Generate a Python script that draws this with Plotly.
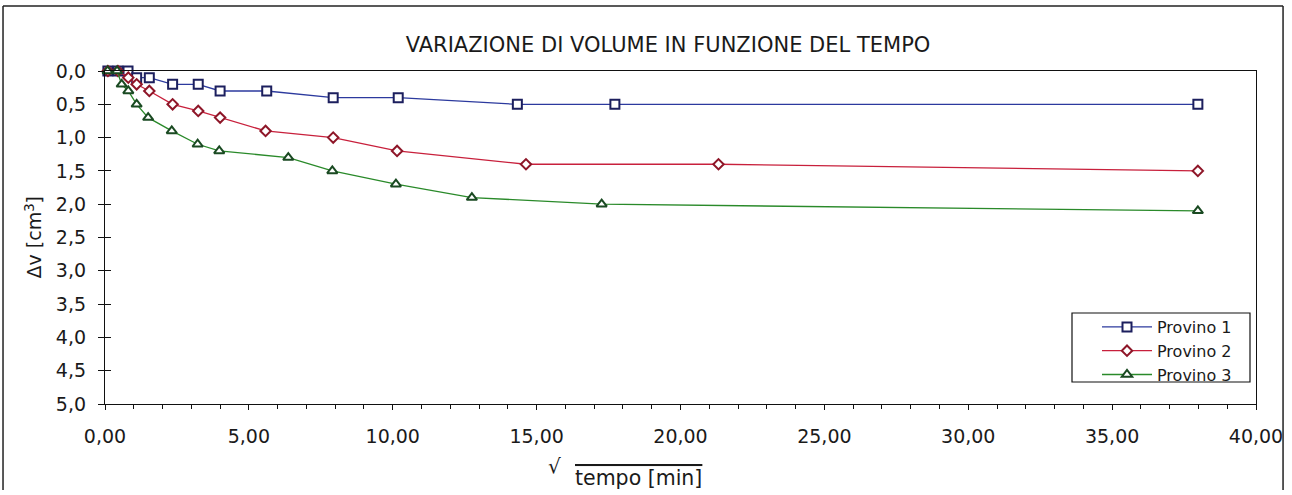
import plotly.graph_objects as go

# sqrt(tempo [min])
x_p1 = [0.10, 0.45, 0.80, 1.10, 1.54, 2.35, 3.24, 4.00, 5.62, 7.93, 10.19, 14.33, 17.72, 37.98]
y_p1 = [0.0, 0.0, 0.0, 0.1, 0.1, 0.2, 0.2, 0.3, 0.3, 0.4, 0.4, 0.5, 0.5, 0.5]

x_p2 = [0.10, 0.45, 0.81, 1.10, 1.54, 2.35, 3.24, 4.00, 5.58, 7.93, 10.15, 14.63, 21.32, 37.98]
y_p2 = [0.0, 0.0, 0.1, 0.2, 0.3, 0.5, 0.6, 0.7, 0.9, 1.0, 1.2, 1.4, 1.4, 1.5]

x_p3 = [0.09, 0.42, 0.58, 0.81, 1.10, 1.50, 2.32, 3.22, 3.97, 6.37, 7.90, 10.11, 12.75, 17.26, 37.98]
y_p3 = [0.0, 0.0, 0.2, 0.3, 0.5, 0.7, 0.9, 1.1, 1.2, 1.3, 1.5, 1.7, 1.9, 2.0, 2.1]

names = ["Provino 1", "Provino 2", "Provino 3"]
title = "VARIAZIONE DI VOLUME IN FUNZIONE DEL TEMPO"
y_title = "Δv [cm<sup>3</sup>]"
x_title = "tempo [min]"

FONT = "DejaVu Sans"
TXT = "#1a1a1a"

fig = go.Figure()
fig.add_trace(go.Scatter(
    x=x_p1, y=y_p1, name=names[0], mode="lines+markers", cliponaxis=False,
    line=dict(color="#2c3a9e", width=1.3),
    marker=dict(symbol="square", size=9, color="white", line=dict(color="#1c1f5e", width=2)),
))
fig.add_trace(go.Scatter(
    x=x_p2, y=y_p2, name=names[1], mode="lines+markers", cliponaxis=False,
    line=dict(color="#c8203c", width=1.3),
    marker=dict(symbol="diamond", size=8, color="white", line=dict(color="#8e1628", width=2)),
))
fig.add_trace(go.Scatter(
    x=x_p3, y=y_p3, name=names[2], mode="lines+markers", cliponaxis=False,
    line=dict(color="#2a8a2a", width=1.3),
    marker=dict(symbol="triangle-up", size=9, color="white", line=dict(color="#1a4a22", width=2)),
))
# invisible trace to carry the inner y tick axis
fig.add_trace(go.Scatter(x=[0], y=[0], yaxis="y2", mode="markers",
                         marker=dict(opacity=0), showlegend=False, hoverinfo="skip"))

fig.update_layout(
    width=1292, height=495,
    margin=dict(l=105, r=36, t=71, b=91, autoexpand=False),
    paper_bgcolor="white", plot_bgcolor="white",
    separators=",.",
    font=dict(family=FONT, size=19, color=TXT),
    title=dict(text=title, xref="paper", x=(668 - 105) / 1151, xanchor="center",
               yref="container", y=1 - 45 / 495, yanchor="middle",
               font=dict(family=FONT, size=21, color=TXT)),
    xaxis=dict(range=[0, 40], dtick=5, tickformat=".2f", showgrid=False, zeroline=False,
               showline=True, linecolor="#111", linewidth=1.3, mirror=True,
               ticks="outside", ticklen=5, tickcolor="#111", tickwidth=1.3,
               minor=dict(dtick=1, ticks="outside", ticklen=4, tickcolor="#111", tickwidth=1.2),
               ticklabelstandoff=10, automargin=False,
               tickfont=dict(family=FONT, size=19, color=TXT)),
    yaxis=dict(range=[5, 0], dtick=0.5, tickformat=".1f", showgrid=False, zeroline=False,
               showline=True, linecolor="#111", linewidth=1.3, mirror=True,
               ticks="outside", ticklen=6, tickcolor="#111", tickwidth=1.3,
               ticklabelstandoff=8, automargin=False,
               tickfont=dict(family=FONT, size=19, color=TXT)),
    yaxis2=dict(range=[5, 0], dtick=0.5, overlaying="y", side="left", anchor="x",
                showgrid=False, zeroline=False, showline=False, showticklabels=False,
                ticks="inside", ticklen=6, tickcolor="#111", tickwidth=1.3),
    legend=dict(x=(1097 - 105) / 1151, y=(404 - 310) / 333, xanchor="left", yanchor="top",
                bgcolor="rgba(0,0,0,0)", borderwidth=0,
                font=dict(family=FONT, size=16, color=TXT),
                itemwidth=50, tracegroupgap=0),
    showlegend=True,
)

# legend frame drawn as a shape (legend itself sits on top)
fig.add_shape(type="rect", xref="paper", yref="paper",
              x0=(1072 - 105) / 1151, x1=(1250 - 105) / 1151,
              y0=(404 - 382) / 333, y1=(404 - 313) / 333,
              fillcolor="white", line=dict(color="#111", width=1.2), layer="above")

# y axis title
fig.add_annotation(x=(33 - 105) / 1151, y=0.5, xref="paper", yref="paper", text=y_title,
                   textangle=-90, showarrow=False, xanchor="center", yanchor="middle",
                   font=dict(family=FONT, size=19, color=TXT))

# x axis title: radical sign + overlined text
fig.add_annotation(x=(554 - 105) / 1151, y=(404 - 466) / 333, xref="paper", yref="paper",
                   text="√", showarrow=False, xanchor="center", yanchor="middle",
                   font=dict(family=FONT, size=20, color=TXT))
fig.add_annotation(x=(573 - 105) / 1151, y=(404 - 478) / 333, xref="paper", yref="paper",
                   text=x_title, showarrow=False, xanchor="left", yanchor="middle",
                   font=dict(family=FONT, size=20.5, color=TXT, lineposition="over"))

# outer chart frame
fx0, fx1 = -0.0886, 1.0235
fy0, fy1 = -0.258, 1.195
for (a, b, c, d) in [(fx0, fy1, fx1, fy1), (fx0, fy0, fx0, fy1), (fx1, fy0, fx1, fy1)]:
    fig.add_shape(type="line", xref="paper", yref="paper", x0=a, y0=b, x1=c, y1=d,
                  line=dict(color="#222", width=1.5))

fig.write_html("out.html")
